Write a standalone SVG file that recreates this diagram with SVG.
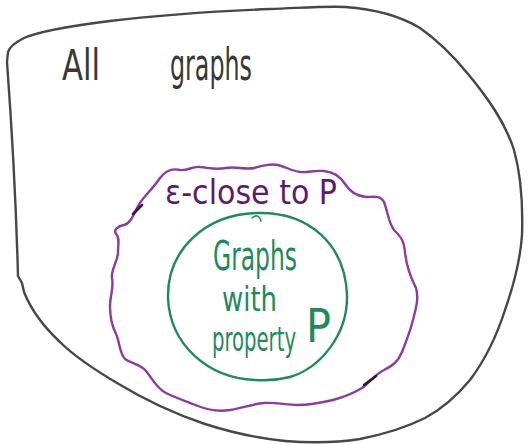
<svg xmlns="http://www.w3.org/2000/svg" width="532" height="444" viewBox="0 0 532 444">
<style>
.hand{font-family:"Liberation Sans Narrow","DejaVu Sans Condensed","Liberation Sans",sans-serif;font-weight:normal}
.line{fill:none;stroke-linecap:round;stroke-linejoin:round}
</style>
<rect width="532" height="444" fill="#ffffff"/>
<g id="all-graphs">
<path class="line" stroke="#474747" stroke-width="2.4" d="M 7,62 L 8,52 C 10,46 16,42 24,38 C 40,31 70,26 110,21 C 160,15 220,11 270,9 C 300,8 325,6 345,7 C 375,9 400,16 420,28 C 440,42 455,58 468,74 C 488,98 505,122 514,150 C 521,175 523,205 522,235 C 520,265 512,290 505,310 C 497,335 485,360 470,380 C 455,398 440,410 425,418 C 405,428 385,434 360,439 C 335,443 310,443 285,441 C 255,438 230,432 205,424 C 175,414 145,400 117,383 C 95,370 75,357 60,342 C 45,328 32,312 24,292 L 22,283 L 18,276 C 16,200 12,130 7,62"/>
<text class="hand" x="62" y="80" font-size="42" fill="#383838" textLength="38" lengthAdjust="spacingAndGlyphs">All</text>
<text class="hand" x="170" y="80" font-size="44" fill="#383838" textLength="82" lengthAdjust="spacingAndGlyphs">graphs</text>
</g>
<g id="eps-close">
<path class="line" stroke="#8b3c9c" stroke-width="2.4" d="M 160,178 C 166,170 172,168 180,170 C 188,171 192,166 200,167 C 210,168 216,170 226,168 C 236,166 244,170 254,168 C 262,166 270,163 278,165 C 286,167 292,171 300,172 C 308,173 314,170 324,171 C 334,172 340,176 345,184 C 350,192 356,196 366,197 C 374,197 380,195 384,202 C 388,212 388,222 394,230 C 400,236 404,240 405,252 C 406,264 410,276 416,288 C 419,298 416,308 413,320 C 410,332 406,342 402,352 C 398,362 392,366 384,370 C 376,374 370,382 362,388 C 352,394 344,397 333,400 C 320,403 310,405 298,405 C 286,405 276,402 264,403 C 252,404 242,408 230,410 C 218,412 208,410 198,406 C 188,402 176,398 166,393 C 156,388 152,378 146,371 C 140,364 132,364 125,359 C 119,353 120,342 116,334 C 112,326 110,316 110,306 C 110,296 114,288 112,278 C 111,268 118,262 118,252 C 118,244 120,238 116,234 C 113,230 118,226 124,225 C 131,223 134,214 138,206 C 142,198 152,190 160,178 Z"/>
<path class="line" stroke="#3c1548" stroke-width="2.6" d="M 133,214 L 142,205"/>
<path class="line" stroke="#2a1a2a" stroke-width="2.6" d="M 364,385 L 376,376"/>
<text class="hand" x="165" y="204" font-size="34" fill="#5e1a70" textLength="172" lengthAdjust="spacingAndGlyphs">ε-close to P</text>
</g>
<g id="property-p">
<path class="line" stroke="#1f8a5b" stroke-width="2.4" d="M 258,213 C 310,212 345,245 347,295 C 348,335 320,368 290,377 C 278,380 268,381 255,380 C 208,378 170,345 168,298 C 167,250 205,214 258,213 Z"/>
<path class="line" stroke="#1f8a5b" stroke-width="1.6" d="M 252,218 C 256,214 260,216 261,221"/>
<text class="hand" x="213" y="270" font-size="40" fill="#1f8a5b" textLength="84" lengthAdjust="spacingAndGlyphs">Graphs</text>
<text class="hand" x="222" y="311" font-size="33" fill="#1f8a5b" textLength="55" lengthAdjust="spacingAndGlyphs">with</text>
<text class="hand" transform="translate(212,351) scale(0.6,1)" x="0" y="0" font-size="33" fill="#1f8a5b" textLength="140" lengthAdjust="spacingAndGlyphs">property</text>
<text class="hand" x="306" y="342" font-size="46" fill="#1f8a5b" textLength="25" lengthAdjust="spacingAndGlyphs">P</text>
</g>
<g id="connectors"/>
</svg>
